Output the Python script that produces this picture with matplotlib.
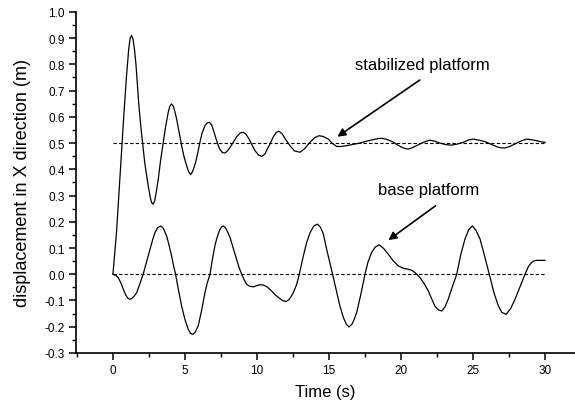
import numpy as np
import matplotlib.pyplot as plt
from matplotlib.ticker import MultipleLocator

plt.rcParams['font.family'] = ['Liberation Sans', 'DejaVu Sans']

# stabilized platform (time s, displacement m)
t_stab = [0.0, 0.25, 0.5, 0.75, 0.95, 1.1, 1.2, 1.3, 1.4, 1.5, 1.6, 1.7, 1.8,
          1.9, 2.0, 2.1, 2.2, 2.3, 2.45, 2.6, 2.7, 2.8, 2.9, 3.0, 3.15, 3.3,
          3.5, 3.65, 3.84, 3.95, 4.07, 4.2, 4.3, 4.42, 4.6, 4.77, 4.95, 5.12,
          5.25, 5.39, 5.52, 5.62, 5.74, 5.9, 6.04, 6.2, 6.39, 6.55, 6.69, 6.85,
          7.0, 7.2, 7.4, 7.6, 7.78, 7.95, 8.15, 8.35, 8.6, 8.85, 9.05, 9.25,
          9.45, 9.63, 9.85, 10.1, 10.33, 10.55, 10.7, 10.9, 11.15, 11.35, 11.53,
          11.75, 12.0, 12.29, 12.6, 12.99, 13.3, 13.68, 14.0, 14.3, 14.6, 14.95,
          15.25, 15.53, 15.85, 16.23, 16.7, 17.15, 17.6, 18.08, 18.4, 18.66,
          18.95, 19.2, 19.47, 19.75, 20.05, 20.3, 20.5, 20.75, 21.0, 21.3,
          21.65, 22.0, 22.35, 22.7, 23.1, 23.5, 23.9, 24.33, 24.7, 25.02, 25.5,
          25.95, 26.3, 26.65, 26.9, 27.2, 27.55, 27.9, 28.3, 28.7, 29.05, 29.4,
          29.7, 30.0]
x_stab = [0.0, 0.16, 0.38, 0.6, 0.76, 0.86, 0.9, 0.91, 0.895, 0.855, 0.8, 0.72,
          0.645, 0.585, 0.53, 0.48, 0.43, 0.39, 0.338, 0.29, 0.272, 0.267, 0.28,
          0.31, 0.363, 0.43, 0.503, 0.56, 0.617, 0.64, 0.649, 0.64, 0.62, 0.592,
          0.54, 0.49, 0.445, 0.413, 0.392, 0.379, 0.39, 0.405, 0.426, 0.465,
          0.503, 0.54, 0.566, 0.577, 0.579, 0.57, 0.545, 0.509, 0.478, 0.464,
          0.462, 0.47, 0.485, 0.503, 0.525, 0.539, 0.541, 0.533, 0.515, 0.496,
          0.472, 0.455, 0.449, 0.458, 0.475, 0.496, 0.525, 0.541, 0.545, 0.535,
          0.513, 0.49, 0.47, 0.465, 0.478, 0.503, 0.52, 0.528, 0.525, 0.515,
          0.498, 0.487, 0.487, 0.49, 0.495, 0.5, 0.507, 0.513, 0.517, 0.518,
          0.515, 0.51, 0.503, 0.493, 0.484, 0.479, 0.477, 0.481, 0.488, 0.496,
          0.505, 0.511, 0.507, 0.5, 0.494, 0.492, 0.496, 0.503, 0.512, 0.515,
          0.51, 0.503, 0.494, 0.486, 0.482, 0.481, 0.487, 0.496, 0.507, 0.515,
          0.513, 0.509, 0.505, 0.503]

# base platform
t_base = [0.0, 0.2, 0.37, 0.55, 0.72, 0.9, 1.05, 1.18, 1.3, 1.45, 1.65, 1.85,
          2.1, 2.35, 2.57, 2.75, 2.92, 3.1, 3.31, 3.5, 3.73, 3.9, 4.07, 4.2,
          4.35, 4.55, 4.77, 5.0, 5.23, 5.38, 5.53, 5.7, 5.92, 6.15, 6.39, 6.55,
          6.74, 6.9, 7.08, 7.2, 7.4, 7.55, 7.66, 7.8, 7.95, 8.13, 8.35, 8.59,
          8.75, 8.94, 9.1, 9.28, 9.5, 9.74, 9.95, 10.2, 10.44, 10.7, 11.02,
          11.3, 11.6, 11.8, 12.01, 12.2, 12.35, 12.52, 12.75, 12.94, 13.2,
          13.45, 13.7, 13.95, 14.2, 14.4, 14.6, 14.84, 15.05, 15.25, 15.5,
          15.76, 16.0, 16.2, 16.39, 16.6, 16.75, 16.92, 17.2, 17.5, 17.7, 17.96,
          18.2, 18.49, 18.8, 19.12, 19.45, 19.81, 20.15, 20.51, 20.75, 20.97,
          21.15, 21.32, 21.6, 21.9, 22.1, 22.36, 22.6, 22.83, 23.05, 23.28,
          23.55, 23.87, 24.15, 24.44, 24.7, 24.95, 25.2, 25.49, 25.8, 26.13,
          26.45, 26.76, 27.0, 27.29, 27.6, 27.92, 28.25, 28.61, 28.85, 29.07,
          29.25, 29.42, 30.0]
x_base = [0.0, -0.004, -0.013, -0.033, -0.057, -0.08, -0.092, -0.095, -0.093,
          -0.085, -0.07, -0.04, 0.0, 0.05, 0.095, 0.13, 0.159, 0.177, 0.184,
          0.175, 0.146, 0.11, 0.07, 0.035, 0.0, -0.06, -0.121, -0.172, -0.21,
          -0.225, -0.229, -0.222, -0.197, -0.14, -0.07, -0.033, 0.0, 0.055,
          0.108, 0.134, 0.168, 0.181, 0.184, 0.178, 0.163, 0.14, 0.1, 0.057,
          0.027, 0.0, -0.02, -0.038, -0.046, -0.048, -0.044, -0.04, -0.041,
          -0.048, -0.064, -0.08, -0.093, -0.101, -0.104, -0.098, -0.087, -0.07,
          -0.04, 0.0, 0.065, 0.121, 0.16, 0.184, 0.191, 0.18, 0.155, 0.095,
          0.047, 0.0, -0.06, -0.121, -0.165, -0.19, -0.201, -0.19, -0.172,
          -0.146, -0.08, 0.0, 0.045, 0.083, 0.103, 0.112, 0.098, 0.076, 0.052,
          0.032, 0.023, 0.019, 0.015, 0.006, -0.003, -0.013, -0.035, -0.064,
          -0.09, -0.122, -0.136, -0.14, -0.125, -0.095, -0.05, 0.0, 0.075,
          0.134, 0.17, 0.184, 0.168, 0.134, 0.07, 0.0, -0.07, -0.121, -0.145,
          -0.153, -0.132, -0.095, -0.05, 0.0, 0.03, 0.045, 0.051, 0.053, 0.053]

ref_levels = [0.5, 0.0]

fig = plt.figure(figsize=(5.75, 4.14), dpi=100)
ax = fig.add_axes([0.132, 0.145, 0.868, 0.824])

ax.plot(t_stab, x_stab, color='black', lw=0.9)
ax.plot(t_base, x_base, color='black', lw=0.9)
for lev in ref_levels:
    ax.plot([0, 30], [lev, lev], color='black', lw=0.8, ls=(0, (3, 2)))

# labels with arrows
arrow = dict(arrowstyle='-|>', color='black', lw=1.2, mutation_scale=12,
             shrinkA=0, shrinkB=0)
ax.text(21.5, 0.80, 'stabilized platform', ha='center', va='center', fontsize=12)
ax.annotate('', xy=(15.58, 0.524), xytext=(21.3, 0.74), arrowprops=arrow)
ax.text(21.94, 0.324, 'base platform', ha='center', va='center', fontsize=12)
ax.annotate('', xy=(19.12, 0.13), xytext=(22.4, 0.261), arrowprops=arrow)

ax.set_xlim(-2.57, 32.08)
ax.set_ylim(-0.3, 1.0)
ax.xaxis.set_major_locator(MultipleLocator(5))
ax.xaxis.set_minor_locator(MultipleLocator(2.5))
ax.yaxis.set_major_locator(MultipleLocator(0.1))
ax.yaxis.set_minor_locator(MultipleLocator(0.05))
ax.yaxis.set_major_formatter(plt.FuncFormatter(lambda v, p: '%.1f' % v))

for s in ['top', 'right']:
    ax.spines[s].set_visible(False)
for s in ['left', 'bottom']:
    ax.spines[s].set_linewidth(1.2)
ax.tick_params(which='major', length=5, width=1.1, labelsize=8.5, pad=3)
ax.tick_params(which='minor', length=3, width=1.0)

ax.set_xlabel('Time (s)', fontsize=12, labelpad=6)
ax.set_ylabel('displacement in X direction (m)', fontsize=13, labelpad=10)

fig.savefig('out.png', dpi=100)
